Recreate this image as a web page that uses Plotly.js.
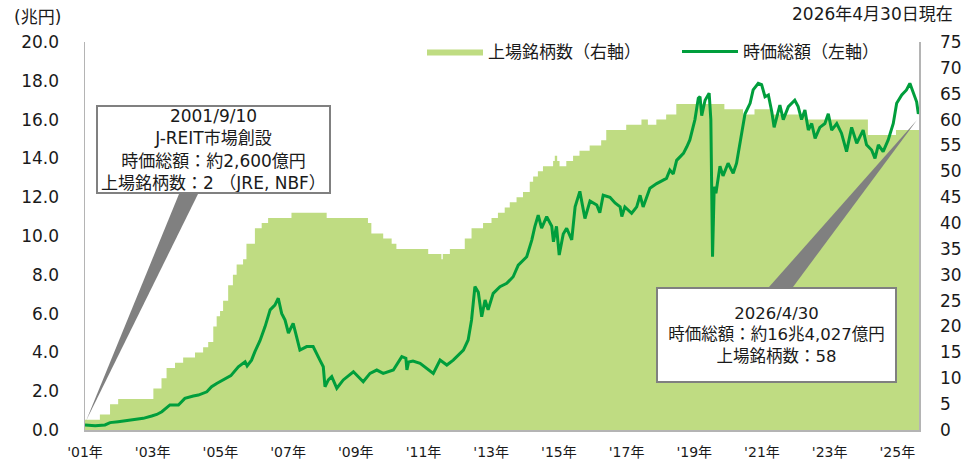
<!DOCTYPE html>
<html>
<head>
<meta charset="utf-8">
<script src="https://cdn.plot.ly/plotly-3.0.1.min.js"></script>
<style>html,body{margin:0;padding:0;background:#fff;}#chart{width:975px;height:461px;}</style>
</head>
<body>
<div id="chart"></div>
<script>
// ---- data (x in decimal years) ----
const countYears = [2001.69,2002.13,2002.43,2002.67,2003.71,2003.95,2004.10,2004.35,2004.59,2004.94,2005.18,2005.33,2005.48,2005.58,2005.68,2005.77,2005.92,2006.06,2006.17,2006.36,2006.46,2006.71,2006.91,2007.10,2007.79,2008.83,2010.05,2010.15,2010.50,2010.75,2010.89,2011.83,2012.22,2012.26,2012.47,2012.91,2013.11,2013.45,2013.70,2013.89,2014.09,2014.24,2014.44,2014.63,2014.83,2014.93,2015.07,2015.22,2015.52,2015.57,2015.64,2015.71,2015.91,2016.11,2016.30,2016.60,2016.94,2017.09,2017.68,2018.13,2018.32,2018.57,2018.86,2019.16,2020.58,2021.13,2021.47,2021.96,2023.00,2024.82,2025.65,2026.33];
const countValues = [2,3,5,6,8,10,12,13,14,15,16,17,20,22,23,25,28,30,32,33,36,39,40,41,42,41,40,38,37,36,35,34,33,34,35,37,39,40,41,42,43,44,45,46,48,49,50,51,52,53,52,51,52,53,54,55,56,58,59,60,59,60,61,63,62,61,62,61,60,57,58,58];

const capYears = [2001.69,2001.99,2002.28,2002.43,2002.67,2002.92,2003.17,2003.41,2003.66,2003.81,2003.96,2004.10,2004.20,2004.45,2004.64,2004.89,2005.04,2005.29,2005.43,2005.58,2005.83,2006.00,2006.22,2006.42,2006.48,2006.61,2006.71,2006.86,2007.01,2007.16,2007.30,2007.40,2007.50,2007.60,2007.70,2007.84,2007.94,2008.04,2008.24,2008.43,2008.63,2008.73,2008.78,2008.88,2008.98,2009.13,2009.32,2009.62,2009.91,2010.11,2010.31,2010.50,2010.80,2011.05,2011.17,2011.20,2011.25,2011.38,2011.59,2011.76,2011.98,2012.18,2012.38,2012.57,2012.87,2013.01,2013.11,2013.21,2013.31,2013.41,2013.51,2013.60,2013.75,2013.95,2014.15,2014.34,2014.49,2014.74,2014.89,2014.98,2015.08,2015.18,2015.33,2015.48,2015.53,2015.62,2015.70,2015.82,2015.92,2016.07,2016.17,2016.31,2016.46,2016.61,2016.81,2016.90,2017.00,2017.20,2017.35,2017.50,2017.55,2017.64,2017.84,2017.99,2018.09,2018.18,2018.38,2018.58,2018.87,2018.97,2019.07,2019.17,2019.37,2019.47,2019.56,2019.71,2019.81,2019.86,2019.91,2020.01,2020.13,2020.18,2020.23,2020.28,2020.33,2020.45,2020.54,2020.69,2020.84,2020.94,2020.99,2021.09,2021.19,2021.34,2021.43,2021.58,2021.68,2021.78,2021.88,2021.98,2022.05,2022.22,2022.32,2022.47,2022.66,2022.76,2022.86,2022.96,2023.06,2023.16,2023.26,2023.40,2023.55,2023.65,2023.75,2023.90,2024.04,2024.19,2024.34,2024.49,2024.68,2024.78,2024.93,2025.03,2025.13,2025.27,2025.42,2025.57,2025.67,2025.82,2025.96,2026.06,2026.16,2026.26,2026.31,2026.33];
const capValues = [0.26,0.22,0.26,0.38,0.43,0.48,0.52,0.60,0.72,0.80,0.94,1.12,1.29,1.29,1.63,1.75,1.80,1.97,2.23,2.40,2.66,2.80,3.26,3.52,3.30,3.60,4.04,4.60,5.33,6.19,6.44,6.79,6.01,5.67,5.00,5.50,4.81,4.12,4.30,4.30,3.60,3.26,2.23,2.58,2.75,2.15,2.58,3.00,2.49,2.92,3.09,2.92,3.09,3.78,3.70,3.10,3.50,3.55,3.44,3.20,2.92,3.61,3.35,3.60,4.12,4.64,5.67,7.39,7.10,5.84,6.70,6.20,7.04,7.39,7.56,7.90,8.50,8.93,9.79,10.48,11.08,10.40,11.00,10.50,9.70,10.50,9.02,10.10,10.40,9.80,11.50,12.30,10.90,11.80,11.60,11.20,12.10,12.00,11.70,11.50,11.00,11.50,11.17,11.50,12.10,11.50,12.46,12.70,12.97,13.40,13.20,13.90,14.26,14.60,14.95,16.00,17.10,17.18,16.20,17.00,17.36,16.00,8.93,12.54,12.20,13.60,13.10,13.75,13.23,13.75,14.26,15.10,16.30,16.84,17.53,17.87,17.80,17.18,17.27,16.41,15.60,16.75,16.00,16.67,17.00,16.67,16.00,16.50,15.46,15.80,15.03,15.60,15.80,16.30,15.46,15.80,15.30,14.35,15.60,14.78,15.46,14.70,14.43,14.00,14.70,14.35,14.95,15.80,16.84,17.27,17.53,17.87,17.36,16.92,16.30,16.40];

const xTickYears = [2001.69,2003.69,2005.69,2007.69,2009.69,2011.69,2013.69,2015.69,2017.69,2019.69,2021.69,2023.69,2025.69];
const xTickText = ["'01年","'03年","'05年","'07年","'09年","'11年","'13年","'15年","'17年","'19年","'21年","'23年","'25年"];

const seriesNames = ['上場銘柄数（右軸）','時価総額（左軸）'];

// ---- styles ----
const FONT = 'DejaVu Sans, "Noto Sans CJK JP", sans-serif';
const TXT = '#1a1a1a';
const AXIS = '#b4b4b4';
const L = 85, R = 919, T = 42, B = 430;
const px = x => (x - L) / (R - L);
const py = y => (B - y) / (B - T);

const traces = [
  {
    x: countYears, y: countValues, name: seriesNames[0], yaxis: 'y',
    type: 'scatter', mode: 'lines', line: {shape: 'hv', width: 0, color: '#bfdc82'},
    fill: 'tozeroy', fillcolor: '#bfdc82', hoverinfo: 'skip'
  },
  {
    x: capYears, y: capValues, name: seriesNames[1], yaxis: 'y2',
    type: 'scatter', mode: 'lines', line: {width: 3, color: '#009e3c'}, hoverinfo: 'skip'
  }
];

const layout = {
  width: 975, height: 461,
  margin: {l: L, r: 975 - R, t: T, b: 461 - B, pad: 0},
  paper_bgcolor: '#fff', plot_bgcolor: 'rgba(0,0,0,0)',
  font: {family: FONT, size: 17, color: TXT},
  showlegend: true,
  legend: {
    orientation: 'h', x: px(422), xanchor: 'left', y: py(52), yanchor: 'middle',
    font: {size: 17, color: TXT}, itemwidth: 56, entrywidth: 184, bgcolor: 'rgba(0,0,0,0)'
  },
  xaxis: {
    type: 'linear', range: [2001.69, 2026.33], tickmode: 'array',
    tickvals: xTickYears, ticktext: xTickText, showgrid: false, zeroline: false,
    showline: true, linecolor: AXIS, linewidth: 2, ticks: '', tickfont: {size: 14, color: TXT},
    ticklabelstandoff: 8, fixedrange: true
  },
  yaxis: {
    side: 'right', range: [0, 75], dtick: 5, tick0: 0, showgrid: false, zeroline: false,
    showline: true, linecolor: AXIS, linewidth: 1.5, ticks: '', tickfont: {size: 17, color: TXT},
    ticklabelstandoff: 16, fixedrange: true
  },
  yaxis2: {
    side: 'left', overlaying: 'y', range: [0, 20], dtick: 2, tick0: 0, tickformat: '.1f',
    showgrid: false, zeroline: false, showline: true, linecolor: AXIS, linewidth: 1.5,
    ticks: '', tickfont: {size: 17, color: TXT}, ticklabelstandoff: 21, fixedrange: true
  },
  shapes: [
    {type: 'path', xref: 'paper', yref: 'paper', layer: 'above',
     path: `M${px(179)},${py(194)} L${px(198)},${py(194)} L${px(86)},${py(421)} Z`,
     fillcolor: '#808080', line: {width: 0}},
    {type: 'path', xref: 'paper', yref: 'paper', layer: 'above',
     path: `M${px(769)},${py(287)} L${px(793)},${py(287)} L${px(917)},${py(120)} Z`,
     fillcolor: '#808080', line: {width: 0}}
  ],
  annotations: [
    {xref: 'paper', yref: 'paper', x: px(63), y: py(17), xanchor: 'right', yanchor: 'middle',
     text: '(兆円)', showarrow: false, font: {size: 17, color: TXT}},
    {xref: 'paper', yref: 'paper', x: px(955), y: py(14), xanchor: 'right', yanchor: 'middle',
     text: '2026年4月30日現在', showarrow: false, font: {size: 17, color: TXT}},
    {xref: 'paper', yref: 'paper', x: px(213.5), y: py(149.5), xanchor: 'center', yanchor: 'middle',
     text: '2001/9/10<br>J-REIT市場創設<br>時価総額：約2,600億円<br>上場銘柄数：2 （JRE, NBF）',
     showarrow: false, bgcolor: '#fff', bordercolor: '#808080', borderwidth: 2, borderpad: 0,
     width: 231, height: 85, font: {size: 17, color: TXT}, align: 'center'},
    {xref: 'paper', yref: 'paper', x: px(776.5), y: py(335), xanchor: 'center', yanchor: 'middle',
     text: '2026/4/30<br>時価総額：約16兆4,027億円<br>上場銘柄数：58',
     showarrow: false, bgcolor: '#fff', bordercolor: '#808080', borderwidth: 2, borderpad: 0,
     width: 237, height: 92, font: {size: 16.5, color: TXT}, align: 'center'}
  ]
};

Plotly.newPlot('chart', traces, layout, {staticPlot: true, displayModeBar: false});
</script>
</body>
</html>
